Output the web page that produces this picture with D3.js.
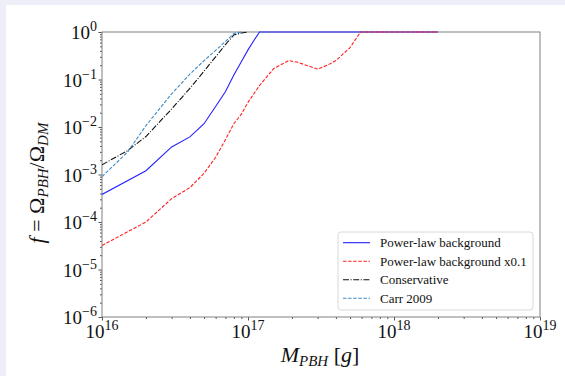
<!DOCTYPE html>
<html>
<head>
<meta charset="utf-8">
<script src="https://cdn.jsdelivr.net/npm/d3@7"></script>
<style>
  body { margin: 0; }
  svg text { font-family: "Liberation Serif", "DejaVu Serif", serif; }
</style>
</head>
<body>
<script>
// data
var plMass = [1e16, 2e16, 3e16, 4e16, 5e16, 6e16, 7e16, 8e16, 9e16, 1e17, 1.1e17, 1.2e17, 2e18];
var plF    = [3.8e-4, 1.2e-3, 3.8e-3, 6.2e-3, 1.17e-2, 2.7e-2, 5.5e-2, 0.124, 0.237, 0.42, 0.67, 1, 1];

var pl01Mass = [1e16, 2e16, 3e16, 4e16, 5e16, 6e16, 7e16, 8e16, 9e16, 1e17, 1.2e17, 1.5e17, 1.9e17, 2.2e17, 2.5e17, 3e17, 3.5e17, 4e17, 5e17, 5.9e17, 2e18];
var pl01F    = [3.2e-5, 1.0e-4, 3.1e-4, 5.3e-4, 1.06e-3, 2.3e-3, 5.4e-3, 1.17e-2, 1.86e-2, 3.3e-2, 7.5e-2, 0.17, 0.25, 0.23, 0.2, 0.166, 0.2, 0.25, 0.47, 1, 1];

var consMass = [1e16, 1.5e16, 2e16, 3e16, 4e16, 5e16, 6e16, 7e16, 8e16, 9e16, 1e17];
var consF    = [1.6e-3, 3.2e-3, 6.3e-3, 0.024, 0.065, 0.15, 0.3, 0.54, 0.87, 0.95, 1];

var carrMass = [1e16, 1.5e16, 2e16, 3e16, 3.5e16, 4e16, 5e16, 6e16, 7e16, 8e16, 9e16];
var carrF    = [9e-4, 3e-3, 0.0107, 0.05, 0.083, 0.13, 0.25, 0.41, 0.63, 0.93, 1];

var xTickExp = [16, 17, 18, 19];
var yTickExp = [0, -1, -2, -3, -4, -5, -6];
var legendNames = ["Power-law background", "Power-law background x0.1", "Conservative", "Carr 2009"];

var width = 565, height = 376;
var margin = {left: 102, right: 25, top: 32, bottom: 59};

var svg = d3.select('body').append('svg').attr('width', width).attr('height', height);
svg.append('rect').attr('width', width).attr('height', height).attr('fill', '#eeeef9');
svg.append('rect').attr('x', 6).attr('y', 5).attr('width', width - 6).attr('height', height - 5).attr('fill', 'white');

var x = d3.scaleLog().domain([1e16, 1e19]).range([margin.left, width - margin.right]);
var y = d3.scaleLog().domain([1e-6, 1]).range([height - margin.bottom, margin.top]);

var minor = function(lo, hi){
        var out = [];
        for (var e = lo; e < hi; e++) for (var m = 2; m < 10; m++) out.push(m * Math.pow(10, e));
        return out;
};

// minor + major ticks
var xAx = svg.append('g').attr('transform', 'translate(0,' + (height - margin.bottom) + ')');
xAx.append('g').call(d3.axisBottom(x).tickValues(minor(16, 19)).tickSize(2).tickFormat(''));
xAx.append('g').call(d3.axisBottom(x).tickValues(xTickExp.map(function(e){ return Math.pow(10, e); })).tickSize(3.5).tickFormat(''));
var yAx = svg.append('g').attr('transform', 'translate(' + margin.left + ',0)');
yAx.append('g').call(d3.axisLeft(y).tickValues(minor(-6, 0)).tickSize(2).tickFormat(''));
yAx.append('g').call(d3.axisLeft(y).tickValues(yTickExp.map(function(e){ return Math.pow(10, e); })).tickSize(3.5).tickFormat(''));
svg.selectAll('.domain').remove();
svg.selectAll('.tick line').attr('stroke', '#555');

// frame
svg.append('rect')
        .attr('x', margin.left).attr('y', margin.top)
        .attr('width', width - margin.right - margin.left)
        .attr('height', height - margin.bottom - margin.top)
        .attr('fill', 'none').attr('stroke', '#808080').attr('stroke-width', 1);

// tick labels
var xl = svg.append('g').selectAll('text').data(xTickExp).enter().append('text')
        .attr('x', function(d){ return x(Math.pow(10, d)); })
        .attr('y', 338)
        .attr('text-anchor', 'middle')
        .attr('font-size', 19)
        .attr('fill', '#111');
xl.append('tspan').text('10');
xl.append('tspan').attr('font-size', 14).attr('dy', -8).text(function(d){ return d; });

var yl = svg.append('g').selectAll('text').data(yTickExp).enter().append('text')
        .attr('x', 97)
        .attr('y', function(d){ return y(Math.pow(10, d)) + 7; })
        .attr('text-anchor', 'end')
        .attr('font-size', 19)
        .attr('fill', '#111');
yl.append('tspan').text('10');
yl.append('tspan').attr('font-size', 14).attr('dy', -8).text(function(d){ return d === 0 ? '0' : '\u2212' + (-d); });

// axis titles
var xt = svg.append('text').attr('x', 320).attr('y', 362).attr('text-anchor', 'middle').attr('font-size', 22).attr('fill', '#111');
xt.append('tspan').attr('font-style', 'italic').text('M');
xt.append('tspan').attr('font-style', 'italic').attr('font-size', 15).attr('dy', 4).text('PBH');
xt.append('tspan').attr('dy', -4).text(' [');
xt.append('tspan').attr('font-style', 'italic').text('g');
xt.append('tspan').text(']');

var yt = svg.append('text').attr('transform', 'translate(44,183) rotate(-90)').attr('text-anchor', 'middle').attr('font-size', 22).attr('fill', '#111');
yt.append('tspan').attr('font-style', 'italic').text('f');
yt.append('tspan').text(' = \u03A9');
yt.append('tspan').attr('font-style', 'italic').attr('font-size', 15).attr('dy', 4).text('PBH');
yt.append('tspan').attr('dy', -4).text('/\u03A9');
yt.append('tspan').attr('font-style', 'italic').attr('font-size', 15).attr('dy', 4).text('DM');

// curves
svg.append('clipPath').attr('id', 'clip').append('rect')
        .attr('x', margin.left).attr('y', margin.top - 1)
        .attr('width', width - margin.right - margin.left).attr('height', height - margin.bottom - margin.top + 1);

var series = [
        {m: plMass, f: plF, color: '#2222ff', dash: null},
        {m: pl01Mass, f: pl01F, color: '#ff2020', dash: '3.5,1.6'},
        {m: consMass, f: consF, color: '#111', dash: '6,1.6,1,1.6'},
        {m: carrMass, f: carrF, color: '#3a8cc9', dash: '3.5,1.6'}
];
var line = d3.line().x(function(d){ return x(d[0]); }).y(function(d){ return y(d[1]); });

var plot = svg.append('g').attr('clip-path', 'url(#clip)');
plot.selectAll('path').data(series).enter().append('path')
        .attr('fill', 'none')
        .attr('stroke', function(d){ return d.color; })
        .attr('stroke-width', 1.1)
        .attr('stroke-dasharray', function(d){ return d.dash; })
        .attr('d', function(d){ return line(d.m.map(function(v, i){ return [v, d.f[i]]; })); });

// legend
var lg = svg.append('g');
lg.append('rect').attr('x', 338).attr('y', 232).attr('width', 195).attr('height', 78).attr('rx', 3)
        .attr('fill', 'white').attr('stroke', '#d8d8d8');
var rows = lg.selectAll('g.row').data(series).enter().append('g')
        .attr('transform', function(d, i){ return 'translate(0,' + (242.7 + i * 18.5) + ')'; });
rows.append('line').attr('x1', 343).attr('x2', 370)
        .attr('stroke', function(d){ return d.color; })
        .attr('stroke-width', 1.1)
        .attr('stroke-dasharray', function(d){ return d.dash; });
rows.append('text').attr('x', 380).attr('y', 4.5).attr('font-size', 13).attr('fill', '#111')
        .text(function(d, i){ return legendNames[i]; });
</script>
</body>
</html>
